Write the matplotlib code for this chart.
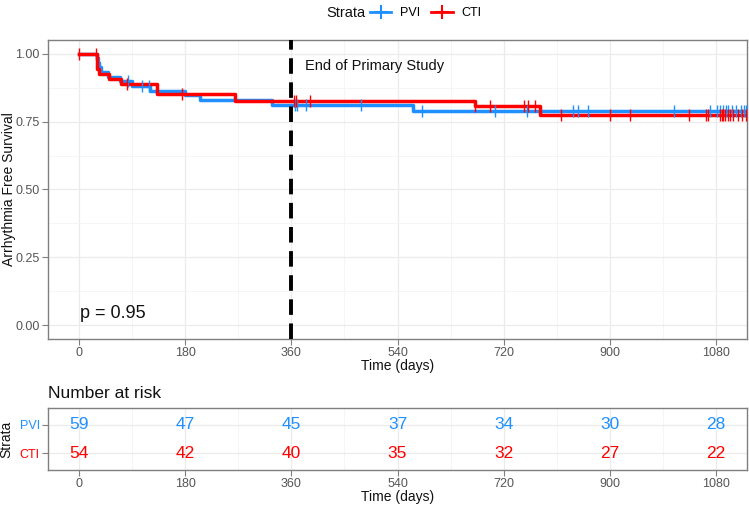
import numpy as np
import matplotlib
matplotlib.use("Agg")
import matplotlib.pyplot as plt
from matplotlib.lines import Line2D

# ---- data ----
strata = ["PVI", "CTI"]
colors = {"PVI": "#1E90FF", "CTI": "#FF0000"}

pvi_times = [0, 30, 32, 34, 37, 49, 70, 90, 120, 180, 205, 327, 567]
pvi_surv = [1.0, 0.983, 0.966, 0.949, 0.932, 0.915, 0.898, 0.881, 0.864, 0.847, 0.828, 0.810, 0.788]
pvi_censor = [83, 106, 119, 366, 369, 385, 478, 581, 705, 759, 838, 847, 864, 1009,
              1070, 1082, 1088, 1092, 1097, 1101, 1108, 1115, 1122, 1128, 1131]

cti_times = [0, 30, 34, 51, 71, 132, 264, 671, 781]
cti_surv = [1.0, 0.944, 0.926, 0.907, 0.889, 0.852, 0.827, 0.806, 0.773]
cti_censor = [0, 28, 81, 174, 365, 368, 392, 671, 697, 755, 761, 774, 818, 901, 935,
              1034, 1064, 1067, 1087, 1090, 1093, 1096, 1100, 1104, 1110, 1118, 1125, 1131]

risk_times = [0, 180, 360, 540, 720, 900, 1080]
risk_pvi = [59, 47, 45, 37, 34, 30, 28]
risk_cti = [54, 42, 40, 35, 32, 27, 22]

p_text = "p = 0.95"
end_label = "End of Primary Study"

# ---- figure ----
plt.rcParams['font.family'] = ['Liberation Sans', 'DejaVu Sans']
fig = plt.figure(figsize=(7.49, 5.07), dpi=100)

grid_major = "#EBEBEB"
grid_minor = "#F4F4F4"
border = "#7F7F7F"
tick_col = "#555555"
W, H = 749, 507

XLIM = (-53, 1133)
ax = fig.add_axes([48/W, 1-339/H, 699/W, 299/H])
ax.set_xlim(*XLIM)
ax.set_ylim(-0.05, 1.05)
ax.set_xticks(risk_times)
ax.set_xticks([90, 270, 450, 630, 810, 990], minor=True)
ax.set_yticks([0, 0.25, 0.5, 0.75, 1.0])
ax.set_yticks([0.125, 0.375, 0.625, 0.875], minor=True)
ax.set_yticklabels(["0.00", "0.25", "0.50", "0.75", "1.00"])
ax.grid(which="major", color=grid_major, lw=0.9)
ax.grid(which="minor", color=grid_minor, lw=0.6)
ax.set_axisbelow(True)
for s in ax.spines.values():
    s.set_color(border)
    s.set_linewidth(1.0)
ax.tick_params(which="major", colors=border, labelcolor=tick_col, labelsize=9, length=4, pad=2)
ax.tick_params(which="minor", length=0)

def draw(times, surv, censor, col):
    t_end = max(max(censor), times[-1])
    tt = list(times) + [t_end]
    ss = list(surv) + [surv[-1]]
    ax.step(tt, ss, where="post", color=col, lw=2.5, zorder=3)
    t_arr = np.array(times)
    idx = np.searchsorted(t_arr, np.array(censor), side="right") - 1
    cy = np.array(surv)[idx]
    ax.plot(censor, cy, ls="none", marker="|", ms=9, mew=1.0, color=col, zorder=4)

draw(pvi_times, pvi_surv, pvi_censor, colors["PVI"])
draw(cti_times, cti_surv, cti_censor, colors["CTI"])

ax.axvline(360, color="black", lw=2.8, ls=(0, (4, 2.2)), zorder=5)
ax.text(383, 0.955, end_label, fontsize=10.5, va="center", ha="left", color="#111111")
ax.text(2, 0.045, p_text, fontsize=13, va="center", ha="left", color="#111111")
ax.set_ylabel("Arrhythmia Free Survival", fontsize=10, color="#111111")
ax.yaxis.set_label_coords((16 - 48) / 699, 0.5)
ax.set_xlabel("Time (days)", fontsize=10, color="#111111", labelpad=0)

# ---- legend ----
fig.text(326/W, 1-13/H, "Strata", fontsize=10.5, va="center", ha="left", color="#111111")
handles = [Line2D([0], [0], color=colors[s], lw=2, marker="+", ms=10, mew=1.5) for s in strata]
fig.legend(handles, strata, loc="center left", bbox_to_anchor=(370/W, 1-13/H), ncol=2,
           frameon=False, fontsize=9, handlelength=1.7, handletextpad=0.7, columnspacing=0.9,
           borderpad=0, borderaxespad=0)

# ---- risk table ----
fig.text(48/W, 1-393/H, "Number at risk", fontsize=12.5, va="center", ha="left", color="#111111")
tx = fig.add_axes([48/W, 1-470/H, 699/W, 62/H])
tx.set_xlim(*XLIM)
tx.set_ylim(0.4, 2.6)
tx.set_xticks(risk_times)
tx.set_xticks([90, 270, 450, 630, 810, 990], minor=True)
tx.set_yticks([1, 2])
tx.set_yticklabels(["CTI", "PVI"])
tx.grid(which="major", color=grid_major, lw=0.9)
tx.grid(which="minor", axis="x", color=grid_minor, lw=0.6)
tx.set_axisbelow(True)
for s in tx.spines.values():
    s.set_color(border)
    s.set_linewidth(1.0)
tx.tick_params(which="major", colors=border, labelsize=9, length=4, pad=2)
tx.tick_params(axis="x", labelcolor=tick_col)
tx.tick_params(which="minor", length=0)
for lbl, s in zip(tx.get_yticklabels(), ["CTI", "PVI"]):
    lbl.set_color(colors[s])
for t, a, b in zip(risk_times, risk_pvi, risk_cti):
    tx.text(t, 2, str(a), color=colors["PVI"], fontsize=12.5, ha="center", va="center")
    tx.text(t, 1, str(b), color=colors["CTI"], fontsize=12.5, ha="center", va="center")
tx.set_ylabel("Strata", fontsize=10, color="#111111")
tx.yaxis.set_label_coords((13 - 48) / 699, 0.5)
tx.set_xlabel("Time (days)", fontsize=10, color="#111111", labelpad=0)

fig.savefig("out.png", dpi=100)
